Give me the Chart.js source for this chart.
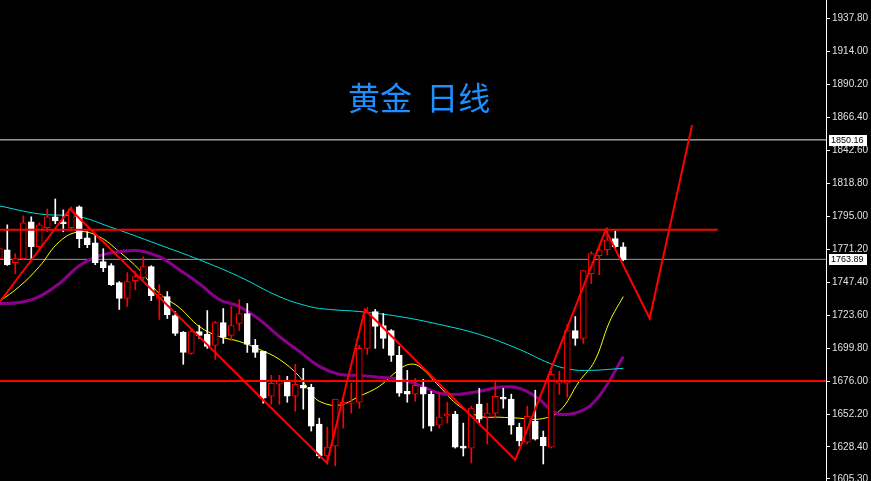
<!DOCTYPE html>
<html><head><meta charset="utf-8">
<script src="https://cdn.jsdelivr.net/npm/chart.js@4/dist/chart.umd.min.js"></script>
<style>
html,body{margin:0;padding:0;background:#000;overflow:hidden}
#wrap{position:relative;width:871px;height:481px}
#title{position:absolute;left:348px;top:76px;font-family:"Noto Sans CJK SC";font-size:32px;color:#1e8fff;white-space:pre;line-height:40px}
</style></head><body>
<div id="wrap"><canvas id="c" width="871" height="481"></canvas><div id="title">黄金  日线</div></div>
<script>
const open  = [1764.4,1770.8,1761.5,1764.4,1791.0,1773.0,1786.7,1794.6,1791.0,1786.7,1801.8,1779.5,1775.9,1762.2,1759.3,1747.1,1735.6,1748.5,1750.7,1758.6,1735.6,1737.0,1723.3,1711.1,1696.0,1711.8,1709.7,1701.8,1718.3,1708.9,1717.6,1724.8,1701.8,1697.4,1665.0,1673.7,1675.8,1665.0,1673.0,1671.5,1644.9,1621.9,1629.1,1659.3,1660.0,1660.7,1699.6,1726.2,1716.1,1712.5,1694.6,1668.6,1666.5,1671.5,1666.5,1644.2,1650.6,1652.1,1629.1,1627.6,1659.3,1649.9,1652.8,1664.3,1662.9,1642.7,1631.9,1647.0,1635.5,1628.3,1674.4,1674.4,1712.5,1706.8,1753.6,1766.5,1770.8,1778.8,1773.0];
const high  = [1776.6,1788.8,1768.0,1795.3,1794.6,1790.3,1800.3,1807.5,1799.6,1801.8,1802.5,1783.8,1781.6,1771.6,1760.8,1747.8,1754.3,1755.0,1765.8,1759.3,1745.6,1740.6,1726.2,1711.8,1714.0,1716.1,1726.9,1719.0,1728.4,1729.8,1734.9,1732.0,1706.1,1697.4,1680.1,1680.1,1679.4,1688.1,1685.2,1673.7,1649.2,1642.7,1662.9,1664.3,1674.4,1701.8,1729.1,1727.7,1724.8,1713.2,1701.0,1683.7,1678.0,1677.3,1668.6,1667.9,1660.7,1654.2,1645.6,1657.9,1670.8,1660.0,1675.1,1670.8,1666.5,1645.6,1657.9,1669.4,1639.9,1683.0,1683.0,1716.9,1722.6,1755.7,1769.4,1774.4,1786.7,1784.5,1775.9];
const low   = [1760.8,1759.5,1753.6,1763.6,1764.4,1770.8,1783.8,1789.6,1783.8,1785.2,1772.3,1772.3,1760.0,1755.0,1745.0,1727.7,1729.8,1742.0,1749.2,1734.1,1720.5,1721.2,1708.9,1688.1,1695.3,1706.8,1699.6,1691.7,1703.2,1705.3,1712.5,1696.7,1693.1,1660.0,1659.3,1659.3,1660.7,1654.2,1655.7,1639.9,1620.4,1616.1,1614.7,1642.0,1652.8,1656.4,1695.3,1699.6,1699.6,1690.2,1665.0,1660.7,1661.4,1642.0,1639.9,1642.0,1645.6,1627.6,1621.9,1616.8,1645.6,1630.5,1649.2,1656.4,1637.7,1629.1,1630.5,1633.4,1616.1,1627.6,1666.5,1664.3,1701.8,1703.2,1746.4,1752.8,1767.2,1771.6,1762.9];
const close = [1771.6,1760.0,1764.4,1790.3,1773.0,1788.8,1794.6,1791.7,1789.6,1800.3,1778.8,1774.4,1761.5,1757.9,1745.6,1735.6,1747.8,1751.4,1758.6,1737.7,1738.5,1724.0,1710.4,1696.7,1711.8,1708.9,1701.0,1718.3,1707.5,1716.1,1724.8,1702.5,1696.7,1663.6,1674.4,1675.8,1665.0,1673.7,1670.8,1643.4,1621.9,1628.3,1662.9,1660.7,1660.7,1699.6,1725.5,1715.4,1706.8,1694.6,1667.2,1666.5,1673.0,1666.5,1643.4,1649.9,1652.1,1628.3,1627.6,1656.4,1648.5,1652.8,1665.0,1662.9,1644.2,1632.7,1650.6,1634.1,1629.1,1680.9,1675.1,1712.5,1706.8,1755.7,1768.0,1770.8,1778.0,1773.0,1763.6];

const cyanX = [0,5,10,13.8,16.3,20,25,30,35,38.8,41.3,45,50,55,60,65,68.8,71.3,73.8,78];
const cyanY = [1802.5,1796.7,1794.6,1787.4,1782.3,1774.4,1763.6,1751.4,1737.0,1729.8,1727.7,1726.2,1722.6,1716.9,1709.7,1698.9,1688.8,1684.5,1683.7,1685.2];
const purpleX = [0,2.5,5,7.5,10,12.5,15,17.5,20,22.5,25,27.5,30,32.5,35,37.5,40,42.5,45,47.5,50,52.5,55,57.5,60,62.5,65,67.5,68.8,70,71.9,73.8,75.6,78];
const purpleY = [1732.0,1732.7,1737.0,1746.4,1759.3,1766.5,1769.4,1770.1,1765.8,1756.4,1746.4,1734.9,1729.8,1720.5,1708.2,1697.4,1686.6,1680.9,1680.1,1678.7,1677.3,1673.0,1667.2,1666.5,1668.6,1671.5,1670.8,1662.9,1655.7,1652.1,1652.8,1657.9,1670.1,1693.8];
const yellowX = [0,2.5,5,7.5,10,12.5,15,17.5,20,22.5,25,27.5,30,32.5,35,37.5,38.8,40,42.5,45,47.5,50,51.3,52.5,55,57.5,60,62.5,65,67.5,70,72.5,74.4,76.3,78];
const yellowY = [1733.4,1744.2,1758.6,1776.6,1783.8,1780.2,1769.4,1756.4,1739.2,1729.1,1715.4,1708.2,1704.6,1698.9,1691.7,1679.4,1668.6,1661.4,1658.6,1665.0,1672.2,1684.5,1688.1,1686.6,1672.2,1657.9,1650.6,1649.9,1649.2,1648.5,1654.2,1675.8,1690.2,1719.0,1737.0];
const zigX = [0.09,8.84,40.96,45.7,64.5,75.8,81.3,86.6];
const zigY = [1733.4,1800.3,1616.8,1727.7,1619.0,1785.2,1721.2,1860.8];
const resistance = 1785.2, support = 1676.0, resistanceEnd = 89.8;
const markA = 1850.16, markB = 1763.89;
const tickValues = [1937.80,1914.00,1890.20,1866.40,1842.60,1818.80,1795.00,1771.20,1747.40,1723.60,1699.80,1676.00,1652.20,1628.40,1605.30];

const XMIN = 0.09, XMAX = 103.34;
const up = open.map((o,i)=>close[i]>=o);
const wicks = open.map((o,i)=>({x:i,y:[low[i],high[i]]}));
const bodies = open.map((o,i)=>{let a=Math.min(o,close[i]),b=Math.max(o,close[i]);if(b-a<0.8){b=a+0.8;}return {x:i,y:[a,b]};});
const col = up.map(u=>u?'#ff0000':'#ffffff');
const pts=(xs,ys)=>xs.map((x,i)=>({x,y:ys[i]}));

const overlay = {
  id:'overlay',
  afterDraw(chart){
    const ctx=chart.ctx, ys=chart.scales.y, a=chart.chartArea;
    ctx.save();
    ctx.strokeStyle='#ffffff';ctx.lineWidth=1;
    ctx.beginPath();ctx.moveTo(a.right+0.5,0);ctx.lineTo(a.right+0.5,481);ctx.stroke();
    [markA,markB].forEach(v=>{
      const y=Math.round(ys.getPixelForValue(v));
      ctx.fillStyle='#ffffff';ctx.fillRect(a.right+3,y-5,38,11);
      ctx.fillStyle='#000000';ctx.font='9px "Liberation Sans"';ctx.textBaseline='middle';
      ctx.fillText(v.toFixed(2),a.right+5,y+0.5);
    });
    ctx.restore();
  }
};

new Chart(document.getElementById('c'),{
  data:{datasets:[
    {type:'line',data:[{x:XMIN,y:markA},{x:XMAX,y:markA}],borderColor:'#e8e8e8',borderWidth:1,pointRadius:0,order:9},
    {type:'line',data:[{x:XMIN,y:markB},{x:XMAX,y:markB}],borderColor:'#9a9a9a',borderWidth:1,pointRadius:0,order:9},
    {type:'line',data:pts(cyanX,cyanY),borderColor:'#00e0e0',borderWidth:1,pointRadius:0,tension:0.4,order:8},
    {type:'line',data:pts(purpleX,purpleY),borderColor:'#8b008b',borderWidth:3,pointRadius:0,tension:0.4,order:8},
    {type:'line',data:pts(yellowX,yellowY),borderColor:'#ffff00',borderWidth:1,pointRadius:0,tension:0.4,order:8},
    {type:'bar',data:wicks,backgroundColor:col,barThickness:1,grouped:false,order:5},
    {type:'bar',data:bodies,backgroundColor:up.map(u=>u?'#000000':'#ffffff'),borderColor:col,borderWidth:1,borderSkipped:false,barThickness:6,grouped:false,order:4},
    {type:'line',data:[{x:XMIN,y:resistance},{x:resistanceEnd,y:resistance}],borderColor:'#ff0000',borderWidth:2,pointRadius:0,order:1},
    {type:'line',data:[{x:XMIN,y:support},{x:XMAX,y:support}],borderColor:'#ff0000',borderWidth:2,pointRadius:0,order:1},
    {type:'line',data:pts(zigX,zigY),borderColor:'#ff0000',borderWidth:2,pointRadius:0,tension:0,order:0}
  ]},
  options:{
    responsive:false,animation:false,events:[],
    layout:{padding:0},
    plugins:{legend:{display:false},tooltip:{enabled:false}},
    scales:{
      x:{type:'linear',min:XMIN,max:XMAX,display:false,offset:false},
      y:{position:'right',min:1609.6,max:1945.4,
        afterBuildTicks(s){s.ticks=tickValues.map(v=>({value:v}));},
        afterFit(s){s.width=45;},
        grid:{drawOnChartArea:false,color:'#ffffff',tickLength:4,drawTicks:true},
        border:{display:false},
        ticks:{color:'#e0e0e0',font:{family:'Liberation Sans',size:10},padding:2,callback:v=>Number(v).toFixed(2)}
      }
    }
  },
  plugins:[overlay, {id:'bg',beforeDraw(c){c.ctx.fillStyle='#000';c.ctx.fillRect(0,0,c.width,c.height);}}]
});
</script></body></html>
